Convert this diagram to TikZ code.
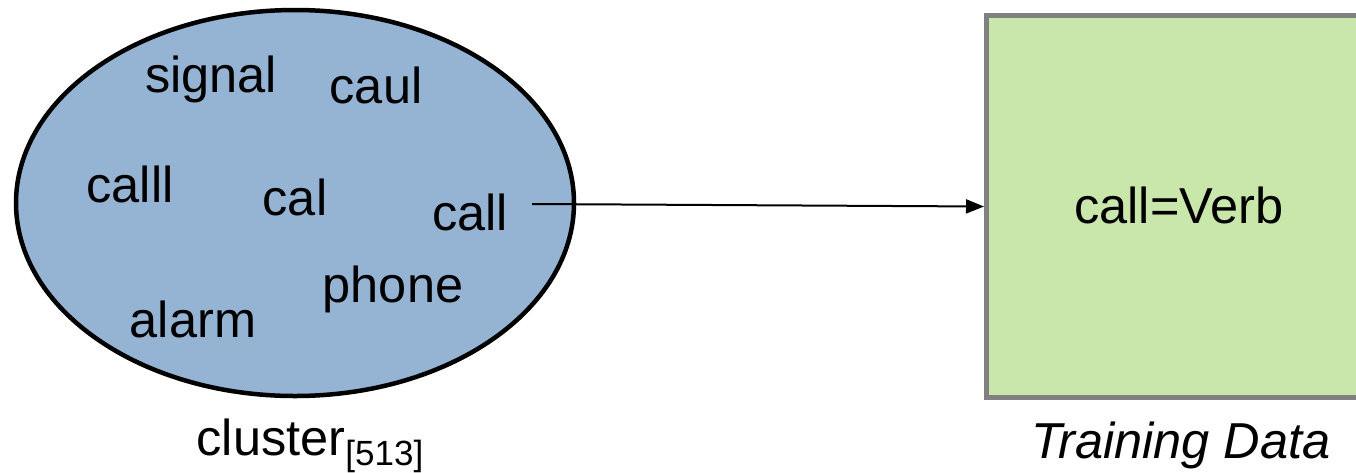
\documentclass[tikz,border=0pt]{standalone}
\usepackage{fontspec}
\setmainfont{Liberation Sans}
\usetikzlibrary{shapes.geometric,arrows.meta}
\definecolor{clusterblue}{HTML}{95B3D3}
\definecolor{datagreen}{HTML}{C9E6AB}
\definecolor{framegray}{HTML}{808080}
\tikzset{
  word/.style={anchor=base, inner sep=0pt, font=\fontsize{50.5}{60}\selectfont},
  clusterset/.style={ellipse, draw=black, line width=4.5pt, fill=clusterblue, inner sep=0pt},
  databox/.style={rectangle, draw=framegray, line width=5pt, fill=datagreen, inner sep=0pt},
  link/.style={line width=2pt, -{Triangle[length=18pt,width=14pt]}}
}
\begin{document}
\begin{tikzpicture}[x=1pt,y=-1pt]
  \useasboundingbox (0,0) rectangle (1356,472);
  \clip (0,0) rectangle (1356,472);

  % word cluster
  \node[clusterset, minimum width=558pt, minimum height=386pt] (cluster) at (295,203) {};
  \node[word] (signal) at (211,92) {signal};
  \node[word] (caul)   at (376,103) {caul};
  \node[word] (calll)  at (130,202) {calll};
  \node[word] (cal)    at (295,215) {cal};
  \node[word] (call)   at (470,230) {call};
  \node[word] (phone)  at (393,302) {phone};
  \node[word] (alarm)  at (193,337) {alarm};
  \node[word] (clabel) at (310,455) {cluster\raisebox{-10pt}{\fontsize{35}{40}\selectfont[513]}};

  % training data
  \node[databox, minimum width=414pt, minimum height=382pt] (box) at (1193.5,206.5) {};
  \node[word] (entry) at (1179,223) {call=Verb};
  \node[word] (tlabel) at (1181,458) {\itshape Training Data};

  % link from the word to the training data
  \coordinate (src) at (532,204);
  \draw[link] (src) -- (box.west);
\end{tikzpicture}
\end{document}
